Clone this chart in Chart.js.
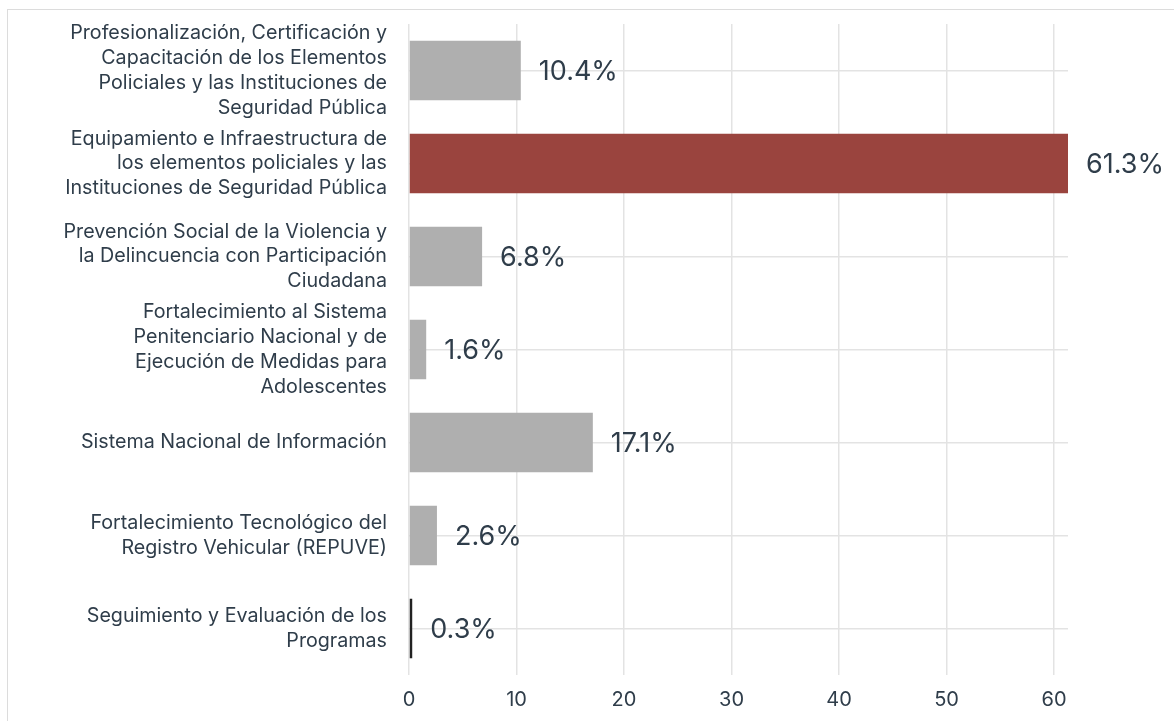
<!DOCTYPE html>
<html>
<head>
<meta charset="utf-8">
<script src="https://cdn.jsdelivr.net/npm/chart.js@4.4.1/dist/chart.umd.min.js"></script>
<style>
  html, body { margin: 0; padding: 0; background: #ffffff; }
  #card { position: absolute; left: 7px; top: 9px; width: 1200px; height: 760px; border: 1.5px solid #dcdcdc; box-sizing: border-box; }
  #wrap { position: absolute; left: 0; top: 0; width: 1174px; height: 721px; }
</style>
</head>
<body>
<div id="card"></div>
<div id="wrap"><canvas id="c" width="1174" height="721"></canvas></div>
<script>
const categories = [
  ["Profesionalización, Certificación y", "Capacitación de los Elementos", "Policiales y las Instituciones de", "Seguridad Pública"],
  ["Equipamiento e Infraestructura de", "los elementos policiales y las", "Instituciones de Seguridad Pública"],
  ["Prevención Social de la Violencia y", "la Delincuencia con Participación", "Ciudadana"],
  ["Fortalecimiento al Sistema", "Penitenciario Nacional y de", "Ejecución de Medidas para", "Adolescentes"],
  ["Sistema Nacional de Información"],
  ["Fortalecimiento Tecnológico del", "Registro Vehicular (REPUVE)"],
  ["Seguimiento y Evaluación de los", "Programas"]
];
const values = [10.4, 61.3, 6.8, 1.6, 17.1, 2.6, 0.3];
const valueLabels = ["10.4%", "61.3%", "6.8%", "1.6%", "17.1%", "2.6%", "0.3%"];
const xTicks = [0, 10, 20, 30, 40, 50, 60];
const barColors = ["#afafaf", "#9a443e", "#afafaf", "#afafaf", "#afafaf", "#afafaf", "#222222"];

const FONT = "Inter, 'Open Sans', sans-serif";
const TEXT = "#2f3d4a";

const valueLabelPlugin = {
  id: 'valueLabels',
  afterDatasetsDraw(chart) {
    const ctx = chart.ctx;
    const meta = chart.getDatasetMeta(0);
    ctx.save();
    ctx.font = "400 27px " + FONT;
    ctx.fillStyle = TEXT;
    ctx.textAlign = 'left';
    ctx.textBaseline = 'middle';
    meta.data.forEach((bar, i) => {
      ctx.fillText(valueLabels[i], bar.x + 18, bar.y + 1);
    });
    ctx.restore();
  }
};

new Chart(document.getElementById('c'), {
  type: 'bar',
  data: {
    labels: categories,
    datasets: [{
      data: values,
      backgroundColor: barColors,
      borderWidth: 0,
      barPercentage: 0.8,
      categoryPercentage: 0.8
    }]
  },
  options: {
    indexAxis: 'y',
    responsive: false,
    animation: false,
    layout: { padding: { left: 20, right: 106, top: 24, bottom: 0 } },
    plugins: {
      legend: { display: false },
      tooltip: { enabled: false }
    },
    scales: {
      x: {
        min: 0,
        max: 61.3,
        afterBuildTicks(scale) {
          scale.ticks = xTicks.map(v => ({ value: v }));
        },
        afterFit(scale) { scale.height = 46; scale.paddingLeft = 0; scale.paddingRight = 0; },
        grid: { color: "#e3e3e3", lineWidth: 1.5, drawTicks: false },
        border: { display: false },
        ticks: {
          padding: 13,
          color: TEXT,
          font: { family: FONT, size: 20, lineHeight: 1.2 }
        }
      },
      y: {
        afterFit(scale) { scale.width = 389; scale.paddingTop = 0; scale.paddingBottom = 0; },
        grid: { color: "#e3e3e3", lineWidth: 1.5, drawTicks: false, offset: false },
        border: { display: false },
        ticks: {
          autoSkip: false,
          padding: 22,
          color: TEXT,
          font: { family: FONT, size: 19.7, lineHeight: 1.26 }
        }
      }
    }
  },
  plugins: [valueLabelPlugin]
});
</script>
</body>
</html>
